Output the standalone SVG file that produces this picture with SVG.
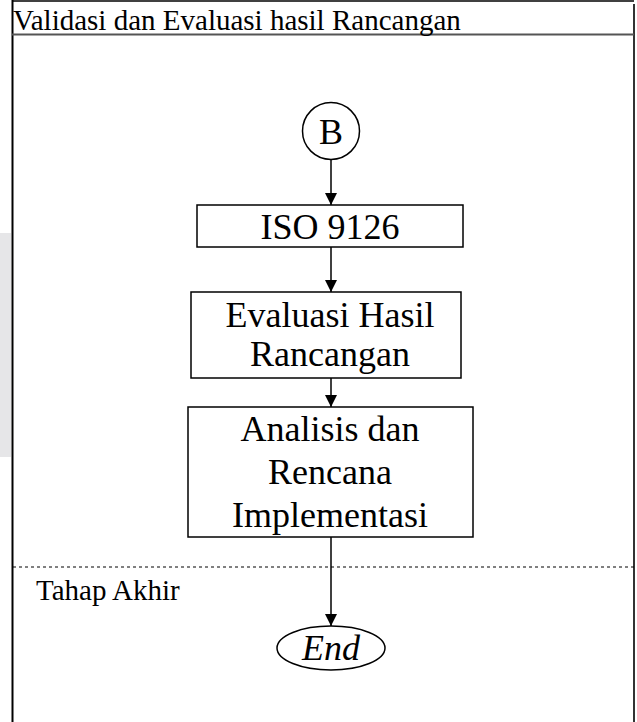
<svg xmlns="http://www.w3.org/2000/svg" width="637" height="722" viewBox="0 0 637 722">
<style>
text{font-family:"Liberation Serif","Times New Roman",serif;fill:#000}
.node{fill:#fff;stroke:#000;stroke-width:1.5}
.big{font-size:36px;text-anchor:middle}
.lane{font-size:29px}
.conn{stroke:#000;stroke-width:1.5;fill:none;marker-end:url(#ah)}
</style>
<defs>
<marker id="ah" markerWidth="12" markerHeight="12" refX="12" refY="6" orient="auto" markerUnits="userSpaceOnUse">
<path d="M0,0 L12,6 L0,12 Z" fill="#000"/>
</marker>
</defs>
<rect width="637" height="722" fill="#fff"/>
<g id="sidebar"><rect x="0" y="233" width="11" height="224" fill="#e6e6e8"/></g>
<g id="frame">
<line x1="12" y1="1" x2="634" y2="1" stroke="#000" stroke-width="1.5"/>
<line x1="12.5" y1="0" x2="12.5" y2="722" stroke="#000" stroke-width="2"/>
<line x1="634" y1="4" x2="634" y2="722" stroke="#333" stroke-width="2"/>
<line x1="12" y1="34.5" x2="634" y2="34.5" stroke="#555" stroke-width="2"/>
<line x1="13" y1="567" x2="634" y2="567" stroke="#000" stroke-width="1" stroke-dasharray="3,3"/>
<text x="13" y="30" class="lane">Validasi dan Evaluasi hasil Rancangan</text>
<text x="36" y="600" class="lane">Tahap Akhir</text>
</g>
<g id="connectors">
<line x1="331" y1="160" x2="331" y2="205" class="conn"/>
<line x1="331" y1="247" x2="331" y2="292" class="conn"/>
<line x1="331" y1="378" x2="331" y2="407" class="conn"/>
<line x1="331" y1="537" x2="331" y2="626" class="conn"/>
</g>
<g id="nodeB">
<circle cx="331" cy="131" r="28.5" class="node" stroke-width="1.2"/>
<text x="331" y="144" class="big">B</text>
</g>
<g id="nodeISO">
<rect x="197" y="205" width="266" height="42" class="node"/>
<text x="330" y="239" class="big">ISO 9126</text>
</g>
<g id="nodeEval">
<rect x="191" y="292" width="270" height="86" class="node"/>
<text x="330" y="327" class="big">Evaluasi Hasil</text>
<text x="330" y="366" class="big">Rancangan</text>
</g>
<g id="nodeAnalisis">
<rect x="188" y="407" width="285" height="130" class="node"/>
<text x="330" y="441" class="big">Analisis dan</text>
<text x="330" y="484" class="big">Rencana</text>
<text x="330" y="527" class="big">Implementasi</text>
</g>
<g id="nodeEnd">
<ellipse cx="331" cy="648" rx="54" ry="22" class="node" stroke-width="1.2"/>
<text x="331" y="660" class="big" font-style="italic">End</text>
</g>
</svg>
